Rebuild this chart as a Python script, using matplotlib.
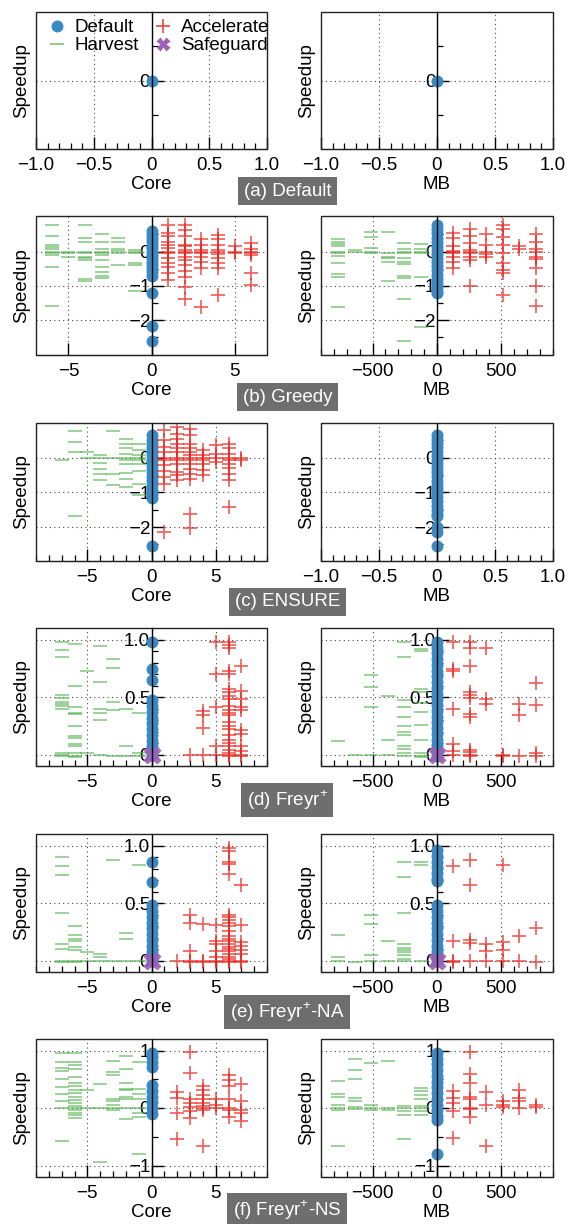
import matplotlib
matplotlib.use('Agg')
import matplotlib.pyplot as plt
from matplotlib.lines import Line2D
from matplotlib.patches import Rectangle
from matplotlib.ticker import FixedLocator, MultipleLocator, FixedFormatter, FuncFormatter

plt.rcParams['font.family'] = ['Liberation Sans', 'DejaVu Sans']
plt.rcParams['mathtext.fontset'] = 'custom'
plt.rcParams['mathtext.rm'] = 'Liberation Sans'

C_DEF = '#3a89c2'
C_HARV = '#4daf4a'
C_ACC = '#e8261f'
C_SAFE = '#9c5fb5'
FS = 13.5

# ---------------- data (speedup per configuration change) ----------------
# (a) Default
a_core_default = [0.0]
a_mb_default = [0.0]

# (b) Greedy
b_core_harvest = {
    -6: [0.78, 0.46, 0.19, 0.13, 0.07, 0.0, -0.05, -0.1, -0.46, -1.6],
    -5: [0.0, -0.05, -0.15],
    -4: [0.78, 0.39, 0.27, 0.0, -0.05, -0.15, -0.19, -0.24, -0.81, -0.85],
    -3: [0.51, 0.27, 0.07, 0.0, -0.05, -0.1, -0.24, -0.46, -0.61, -0.71, -0.78],
    -2: [0.41, 0.27, 0.07, 0.03, -0.03, -0.39],
    -1: [0.05, 0.0, -0.03, -0.34, -0.39, -1.15],
}
b_core_default = [0.6, 0.5, 0.4, 0.3, 0.2, 0.1, 0.0, -0.1, -0.2, -0.3, -0.4, -0.5,
                  -0.6, -0.7, -1.2, -2.18, -2.62]
b_core_accel = {
    1: [0.78, 0.53, 0.46, 0.29, 0.19, 0.1, 0.0, -0.05, -0.19, -0.34, -0.46, -0.63, -0.83],
    2: [0.78, 0.63, 0.46, 0.19, 0.15, 0.05, 0.0, -0.05, -0.15, -0.24, -0.39, -0.58,
        -0.73, -1.02, -1.39],
    3: [0.36, 0.19, 0.05, 0.0, -0.05, -0.15, -0.29, -0.49, -1.62],
    4: [0.49, 0.36, 0.19, 0.05, 0.0, -0.07, -0.19, -0.34, -0.49, -1.26],
    5: [0.17, 0.0, -0.05],
    6: [0.24, 0.07, 0.0, -0.05, -0.1, -0.63, -0.97],
}
b_mb_harvest = {
    -768: [0.36, 0.29, 0.22, 0.15, 0.0, -0.05, -0.12, -0.32, -0.66, -0.75, -1.63],
    -640: [0.05, 0.0],
    -512: [0.58, 0.44, 0.1, 0.0, -0.05],
    -384: [0.58, -0.03, -0.15, -0.19, -0.29, -0.85],
    -256: [0.24, 0.07, 0.0, -0.05, -0.19, -0.29, -0.36, -0.71, -0.78, -1.39, -2.62],
    -128: [0.22, 0.07, 0.0, -0.05, -0.73, -2.2],
}
b_mb_default = [0.77, 0.65, 0.53, 0.41, 0.29, 0.17, 0.05, -0.07, -0.19, -0.31, -0.43,
                -0.55, -0.67, -0.79, -0.91, -1.03, -1.15, -1.21]
b_mb_accel = {
    128: [0.53, 0.39, 0.15, 0.03, 0.0, -0.05, -0.15, -0.29, -0.49],
    256: [0.65, 0.46, 0.24, 0.05, 0.0, -0.05, -0.15, -0.24, -1.0],
    384: [0.51, 0.19, 0.0, -0.07, -0.15],
    512: [0.78, 0.65, 0.44, 0.19, -0.03, -0.34, -0.53, -0.63, -1.26],
    640: [0.15, 0.07],
    768: [0.51, 0.29, 0.07, 0.0, -0.15, -0.22, -0.49, -1.0, -1.6],
}

# (c) ENSURE
c_core_harvest = {
    -7: [-0.06],
    -6: [0.77, 0.45, 0.16, -1.69],
    -5: [0.16, 0.0],
    -4: [0.07, 0.0, -0.15, -0.32, -0.48, -0.63],
    -3: [0.77, 0.0, -0.46, -0.8],
    -2: [0.55, 0.4, 0.29, 0.12, 0.0, -0.08, -0.17, -0.44, -0.61, -0.85],
    -1: [0.4, 0.21, 0.07, 0.0, -0.08, -0.17, -0.38, -0.75, -1.09],
}
c_core_default = [0.64, 0.52, 0.4, 0.28, 0.16, 0.04, -0.08, -0.2, -0.32, -0.44, -0.56,
                  -0.68, -0.8, -0.92, -1.04, -1.17, -2.56]
c_core_accel = {
    1: [0.79, 0.5, 0.31, 0.16, 0.0, -0.08, -0.22, -0.37, -0.56, -0.75, -2.14],
    2: [0.88, 0.69, 0.55, 0.4, 0.29, 0.16, 0.0, -0.08, -0.19, -0.41, -0.51, -0.65],
    3: [0.84, 0.64, 0.4, 0.29, 0.16, 0.07, 0.0, -0.08, -0.17, -0.32, -0.46, -0.61,
        -1.62, -2.02],
    4: [0.21, 0.07, 0.0, -0.08, -0.19, -0.35, -0.51],
    5: [0.36, 0.12, 0.0, -0.13],
    6: [0.4, 0.29, 0.12, 0.0, -0.08, -0.17, -0.29, -0.46, -0.65, -1.42],
    7: [0.0, -0.06],
}
c_mb_default = [0.66, 0.54, 0.42, 0.3, 0.18, 0.06, -0.06, -0.18, -0.3, -0.42, -0.54,
                -0.66, -0.78, -0.9, -1.02, -1.14, -1.26, -1.38, -1.5, -1.62, -1.68,
                -2.0, -2.15, -2.56]

# (d) Freyr+
d_core_harvest = {
    -7: [0.98, 0.91, 0.85, 0.52, 0.49, 0.46, 0.44, 0.42, 0.4, 0.01, 0.0, -0.01],
    -6: [0.96, 0.6, 0.41, 0.36, 0.35, 0.25, 0.16, 0.14, 0.09, 0.07, 0.01, -0.01, -0.02],
    -5: [0.73, 0.01],
    -4: [0.94, 0.63, 0.4, 0.36, 0.3, 0.0],
    -3: [0.83, 0.75, 0.46, 0.39, -0.01],
    -2: [0.4, 0.07, -0.01],
    -1: [0.36, 0.01, -0.01],
}
d_core_default = [0.98, 0.74, 0.65, 0.47, 0.42, 0.37, 0.32, 0.27, 0.22, 0.17, 0.12,
                  0.07, 0.02, 0.0]
d_core_accel = {
    3: [0.0],
    4: [0.38, 0.34, 0.23, 0.0],
    5: [0.98, 0.7, 0.41, 0.07, 0.0],
    6: [0.98, 0.95, 0.93, 0.73, 0.7, 0.57, 0.54, 0.51, 0.48, 0.42, 0.39, 0.36, 0.34,
        0.28, 0.25, 0.22, 0.17, 0.13, 0.1, 0.07, 0.04, 0.01, 0.0, -0.01],
    7: [0.77, 0.55, 0.48, 0.41, 0.39, 0.21, 0.18, 0.07, 0.03, 0.0, -0.01],
}
d_mb_harvest = {
    -768: [0.12],
    -640: [0.0],
    -512: [0.69, 0.59, 0.41, 0.0],
    -384: [0.51, 0.13, 0.0],
    -256: [0.98, 0.85, 0.47, 0.41, 0.33, 0.25, 0.2, 0.17, 0.07, 0.05, 0.01, -0.01],
    -128: [0.92, 0.9, 0.57, 0.54, 0.45, 0.37, 0.26, 0.13, 0.01, -0.01, -0.02],
}
d_mb_default = [0.98, 0.93, 0.88, 0.83, 0.78, 0.73, 0.68, 0.63, 0.58, 0.53, 0.48, 0.43,
                0.38, 0.33, 0.28, 0.23, 0.18, 0.13, 0.08, 0.03, -0.01]
d_mb_accel = {
    128: [0.98, 0.74, 0.73, 0.4, 0.09, 0.03, 0.0],
    256: [0.98, 0.93, 0.77, 0.54, 0.52, 0.49, 0.35, 0.33, 0.04, 0.02, 0.0, -0.01],
    384: [0.93, 0.48, 0.44],
    512: [0.0, -0.01],
    640: [0.44, 0.34, -0.01],
    768: [0.62, 0.43, 0.01, -0.01],
}
d_safe = [0.0]

# (e) Freyr+-NA
e_core_harvest = {
    -7: [0.9, 0.82, 0.74, 0.41, 0.14, 0.1, 0.0, -0.01],
    -6: [0.3, 0.22, 0.19, 0.17, 0.12, 0.09, 0.0, -0.01],
    -5: [0.07, 0.0],
    -4: [0.06, 0.03, 0.0],
    -3: [0.87, 0.0],
    -2: [0.24, 0.19, 0.0],
    -1: [0.83, 0.0],
}
e_core_default = [0.86, 0.68, 0.48, 0.43, 0.38, 0.33, 0.28, 0.23, 0.18, 0.13, 0.08, 0.03, 0.0]
e_core_accel = {
    2: [0.0],
    3: [0.4, 0.33, 0.08, 0.0, -0.01],
    4: [0.32, 0.0, -0.01],
    5: [0.31, 0.17, 0.14, 0.08, 0.03, 0.0, -0.01],
    6: [0.98, 0.95, 0.86, 0.84, 0.75, 0.4, 0.38, 0.35, 0.33, 0.3, 0.26, 0.21, 0.19, 0.17,
        0.14, 0.12, 0.1, 0.08, 0.06, 0.03, 0.01, 0.0, -0.01],
    7: [0.66, 0.31, 0.16, 0.13, 0.09, 0.06, 0.0, -0.01],
}
e_mb_harvest = {
    -768: [0.22, 0.03, 0.0],
    -640: [-0.01],
    -512: [0.4, 0.32, 0.05, 0.0],
    -384: [0.17, 0.0],
    -256: [0.86, 0.73, 0.41, 0.14, 0.11, 0.09, 0.07, 0.05, 0.01, 0.0],
    -128: [0.86, 0.83, 0.0],
}
e_mb_default = [0.96, 0.91, 0.86, 0.81, 0.76, 0.71, 0.69, 0.48, 0.43, 0.38, 0.33, 0.28,
                0.23, 0.18, 0.13, 0.08, 0.03, 0.0]
e_mb_accel = {
    128: [0.82, 0.17, 0.0, -0.01],
    256: [0.87, 0.66, 0.18, 0.15, 0.0],
    384: [0.14, 0.08, 0.0],
    512: [0.83, 0.16, 0.09, 0.0],
    640: [0.21, 0.0],
    768: [0.28, -0.01],
}
e_safe = [0.0]

# (f) Freyr+-NS
f_core_harvest = {
    -7: [0.96, 0.8, 0.7, 0.65, 0.51, 0.37, 0.25, 0.13, 0.0, -0.57],
    -6: [0.96, 0.8, 0.74, 0.67, 0.54, 0.44, 0.38, 0.32, 0.26, 0.2, 0.14, 0.09, 0.04,
         0.0, -0.04, -0.09, -0.13, -0.18],
    -5: [0.31, 0.0],
    -4: [0.41, 0.0, -0.94],
    -3: [0.82, 0.63, 0.58, 0.16, 0.12, 0.06, 0.0, -0.04],
    -2: [0.91, 0.67, 0.43, 0.33, 0.31, 0.2, 0.15, 0.0, -0.19],
    -1: [0.8, 0.33, 0.25, 0.15, 0.0, -0.09, -0.15, -0.8],
}
f_core_default = [0.96, 0.88, 0.8, 0.72, 0.4, 0.3, 0.2, 0.1, 0.0, -0.1]
f_core_accel = {
    2: [0.27, 0.18, -0.09, -0.54],
    3: [0.98, 0.61, 0.16, 0.09, 0.02, -0.06, -0.18],
    4: [0.38, 0.31, 0.23, 0.15, 0.09, 0.03, 0.0, -0.03, -0.66],
    5: [0.15, 0.06, 0.0],
    6: [0.58, 0.49, 0.38, 0.15, 0.0, -0.03, -0.15],
    7: [0.41, 0.13, -0.03, -0.08, -0.23],
}
f_mb_harvest = {
    -768: [0.47, 0.25, 0.19, 0.06, 0.0, -0.03, -0.66],
    -640: [0.86, 0.66, 0.51, 0.18, 0.13, 0.02, -0.02],
    -512: [0.78, 0.06, 0.0, -0.03],
    -384: [0.82, 0.0, -0.04],
    -256: [0.04, 0.0, -0.06, -0.13, -0.54],
    -128: [0.35, 0.29, 0.22, 0.16, 0.04, 0.0, -0.06, -0.12],
}
f_mb_default = [0.96, 0.86, 0.76, 0.66, 0.56, 0.46, 0.36, 0.26, 0.16, 0.06, -0.04,
                -0.14, -0.2, -0.8]
f_mb_accel = {
    128: [0.29, 0.18, 0.08, -0.06, -0.53],
    256: [0.98, 0.6, 0.44, 0.2, 0.16, 0.0, -0.02, -0.16],
    384: [0.27, 0.06, -0.66],
    512: [0.13, 0.06, 0.02],
    640: [0.32, 0.18, 0.13, 0.0],
    768: [0.06, 0.02],
}

captions = ['(a) Default', '(b) Greedy', '(c) ENSURE', r'(d) Freyr$^{+}$',
            r'(e) Freyr$^{+}$-NA', r'(f) Freyr$^{+}$-NS']


def flat(d):
    xs, ys = [], []
    for k, vals in d.items():
        xs += [k] * len(vals)
        ys += vals
    return xs, ys


def fmt_x(v, pos):
    if abs(v) < 1e-9:
        return '0'
    s = '%.1f' % v if abs(v) < 2 else '%d' % round(v)
    return s.replace('-', '\u2212')


UNIT = dict(xlim=(-1, 1), xmaj=[-1, -0.5, 0, 0.5, 1], xmin=0.1)
CORE7 = dict(xlim=(-6.95, 6.95), xmaj=[-5, 0, 5], xmin=None)
CORE9 = dict(xlim=(-9, 9), xmaj=[-5, 0, 5], xmin=1)
MB = dict(xlim=(-900, 900), xmaj=[-500, 0, 500], xmin=100)

Y_A = dict(ylim=(-1, 1), ymaj=[0], ylab=['0'], ymin=[-0.5, 0.5])
Y_B = dict(ylim=(-3.02, 1.04), ymaj=[-2, -1, 0], ylab=['\u22122', '\u22121', '0'],
           ymin=[-2.5, -1.5, -0.5, 0.5])
Y_C = dict(ylim=(-2.98, 1.0), ymaj=[-2, -1, 0], ylab=['\u22122', '\u22121', '0'],
           ymin=[-2.5, -1.5, -0.5, 0.5])
Y_D = dict(ylim=(-0.1, 1.1), ymaj=[0, 0.5, 1.0], ylab=['0', '0.5', '1.0'],
           ymin=[0.1, 0.2, 0.3, 0.4, 0.6, 0.7, 0.8, 0.9])
Y_F = dict(ylim=(-1.2, 1.2), ymaj=[-1, 0, 1], ylab=['\u22121', '0', '1'],
           ymin=[-0.5, 0.5])


def draw(ax, xcfg, ycfg, xlabel, default, harvest=None, accel=None, safe=None):
    ax.set_xlim(xcfg['xlim'])
    ax.set_ylim(ycfg['ylim'])
    ax.spines['left'].set_position(('data', 0))
    ax.spines['left'].set_linewidth(1.0)
    ax.spines['left'].set_color('black')
    ax.spines['top'].set_visible(False)
    ax.spines['right'].set_visible(False)
    ax.spines['bottom'].set_color('#222222')
    ax.add_patch(Rectangle((0, 0), 1, 1, transform=ax.transAxes, fill=False,
                           ec='#222222', lw=1.0, clip_on=False, zorder=3))

    ax.xaxis.set_major_locator(FixedLocator(xcfg['xmaj']))
    ax.xaxis.set_major_formatter(FuncFormatter(fmt_x))
    if xcfg['xmin']:
        ax.xaxis.set_minor_locator(MultipleLocator(xcfg['xmin']))
    ax.yaxis.set_major_locator(FixedLocator(ycfg['ymaj']))
    ax.yaxis.set_major_formatter(FixedFormatter(ycfg['ylab']))
    ax.yaxis.set_minor_locator(FixedLocator(ycfg['ymin']))

    ax.tick_params(axis='x', which='major', direction='in', length=8.5, width=1.0,
                   labelsize=FS, pad=5.5)
    ax.tick_params(axis='x', which='minor', direction='in', length=4.5, width=0.9)
    ax.tick_params(axis='y', which='major', direction='in', length=8.5, width=1.0,
                   labelsize=FS, pad=1)
    ax.tick_params(axis='y', which='minor', direction='in', length=4.5, width=0.9)
    ax.grid(True, which='major', ls=(0, (1, 3)), color='#444444', lw=0.8)
    ax.set_axisbelow(True)

    ax.set_xlabel(xlabel, fontsize=FS, labelpad=1.5)
    ax.set_ylabel('Speedup', fontsize=FS)
    ax.yaxis.set_label_coords(-0.025, 0.5)

    ax.plot([0] * len(default), default, ls='none', marker='o', ms=8.6,
            color=C_DEF, mec='none', zorder=2)
    if harvest:
        hx, hy = flat(harvest)
        ax.plot(hx, hy, ls='none', marker='_', ms=9.6, mew=1.2, color=C_HARV,
                alpha=0.65, zorder=2)
    if accel:
        rx, ry = flat(accel)
        ax.plot(rx, ry, ls='none', marker='+', ms=9.6, mew=1.2, color=C_ACC,
                alpha=0.75, zorder=2)
    if safe:
        ax.plot([0] * len(safe), safe, ls='none', marker='X', ms=13, color=C_SAFE,
                mec='none', alpha=0.9, zorder=2.2)


fig = plt.figure(figsize=(5.7, 12.24), dpi=100)
H = 1224.0
rows = [(12, 149), (216, 355), (423, 561), (628, 766), (834, 972), (1039, 1177)]
cap_y = [191, 397, 602, 800, 1012, 1210]
L0, L1 = 36 / 570, 321 / 570
W0, W1 = 231 / 570, 232 / 570

axes = []
for top, bot in rows:
    b = 1 - bot / H
    h = (bot - top) / H
    axes.append((fig.add_axes([L0, b, W0, h]), fig.add_axes([L1, b, W1, h])))

draw(axes[0][0], UNIT, Y_A, 'Core', a_core_default)
draw(axes[0][1], UNIT, Y_A, 'MB', a_mb_default)
draw(axes[1][0], CORE7, Y_B, 'Core', b_core_default, b_core_harvest, b_core_accel)
draw(axes[1][1], MB, Y_B, 'MB', b_mb_default, b_mb_harvest, b_mb_accel)
draw(axes[2][0], CORE9, Y_C, 'Core', c_core_default, c_core_harvest, c_core_accel)
draw(axes[2][1], UNIT, Y_C, 'MB', c_mb_default)
draw(axes[3][0], CORE9, Y_D, 'Core', d_core_default, d_core_harvest, d_core_accel, d_safe)
draw(axes[3][1], MB, Y_D, 'MB', d_mb_default, d_mb_harvest, d_mb_accel, d_safe)
draw(axes[4][0], CORE9, Y_D, 'Core', e_core_default, e_core_harvest, e_core_accel, e_safe)
draw(axes[4][1], MB, Y_D, 'MB', e_mb_default, e_mb_harvest, e_mb_accel, e_safe)
draw(axes[5][0], CORE9, Y_F, 'Core', f_core_default, f_core_harvest, f_core_accel)
draw(axes[5][1], MB, Y_F, 'MB', f_mb_default, f_mb_harvest, f_mb_accel)

handles = [
    Line2D([], [], ls='none', marker='o', ms=8.6, color=C_DEF, mec='none', label='Default'),
    Line2D([], [], ls='none', marker='_', ms=9.6, mew=1.2, color=C_HARV, alpha=0.75,
           label='Harvest'),
    Line2D([], [], ls='none', marker='+', ms=9.6, mew=1.2, color=C_ACC, alpha=0.85,
           label='Accelerate'),
    Line2D([], [], ls='none', marker='X', ms=10, color=C_SAFE, mec='none',
           label='Safeguard'),
]
axes[0][0].legend(handles=handles, ncol=2, loc='upper left', bbox_to_anchor=(0.0, 1.03),
                  frameon=False, fontsize=FS, handlelength=1.0, handletextpad=0.45,
                  columnspacing=0.8, labelspacing=0.05, borderaxespad=0.2)

for cap, yc in zip(captions, cap_y):
    fig.text(0.504, 1 - yc / H, cap, ha='center', va='center', color='white',
             fontsize=FS, bbox=dict(facecolor='#6e6e6e', edgecolor='none',
                                    boxstyle='square,pad=0.3'))

fig.savefig('out.png', dpi=100)
